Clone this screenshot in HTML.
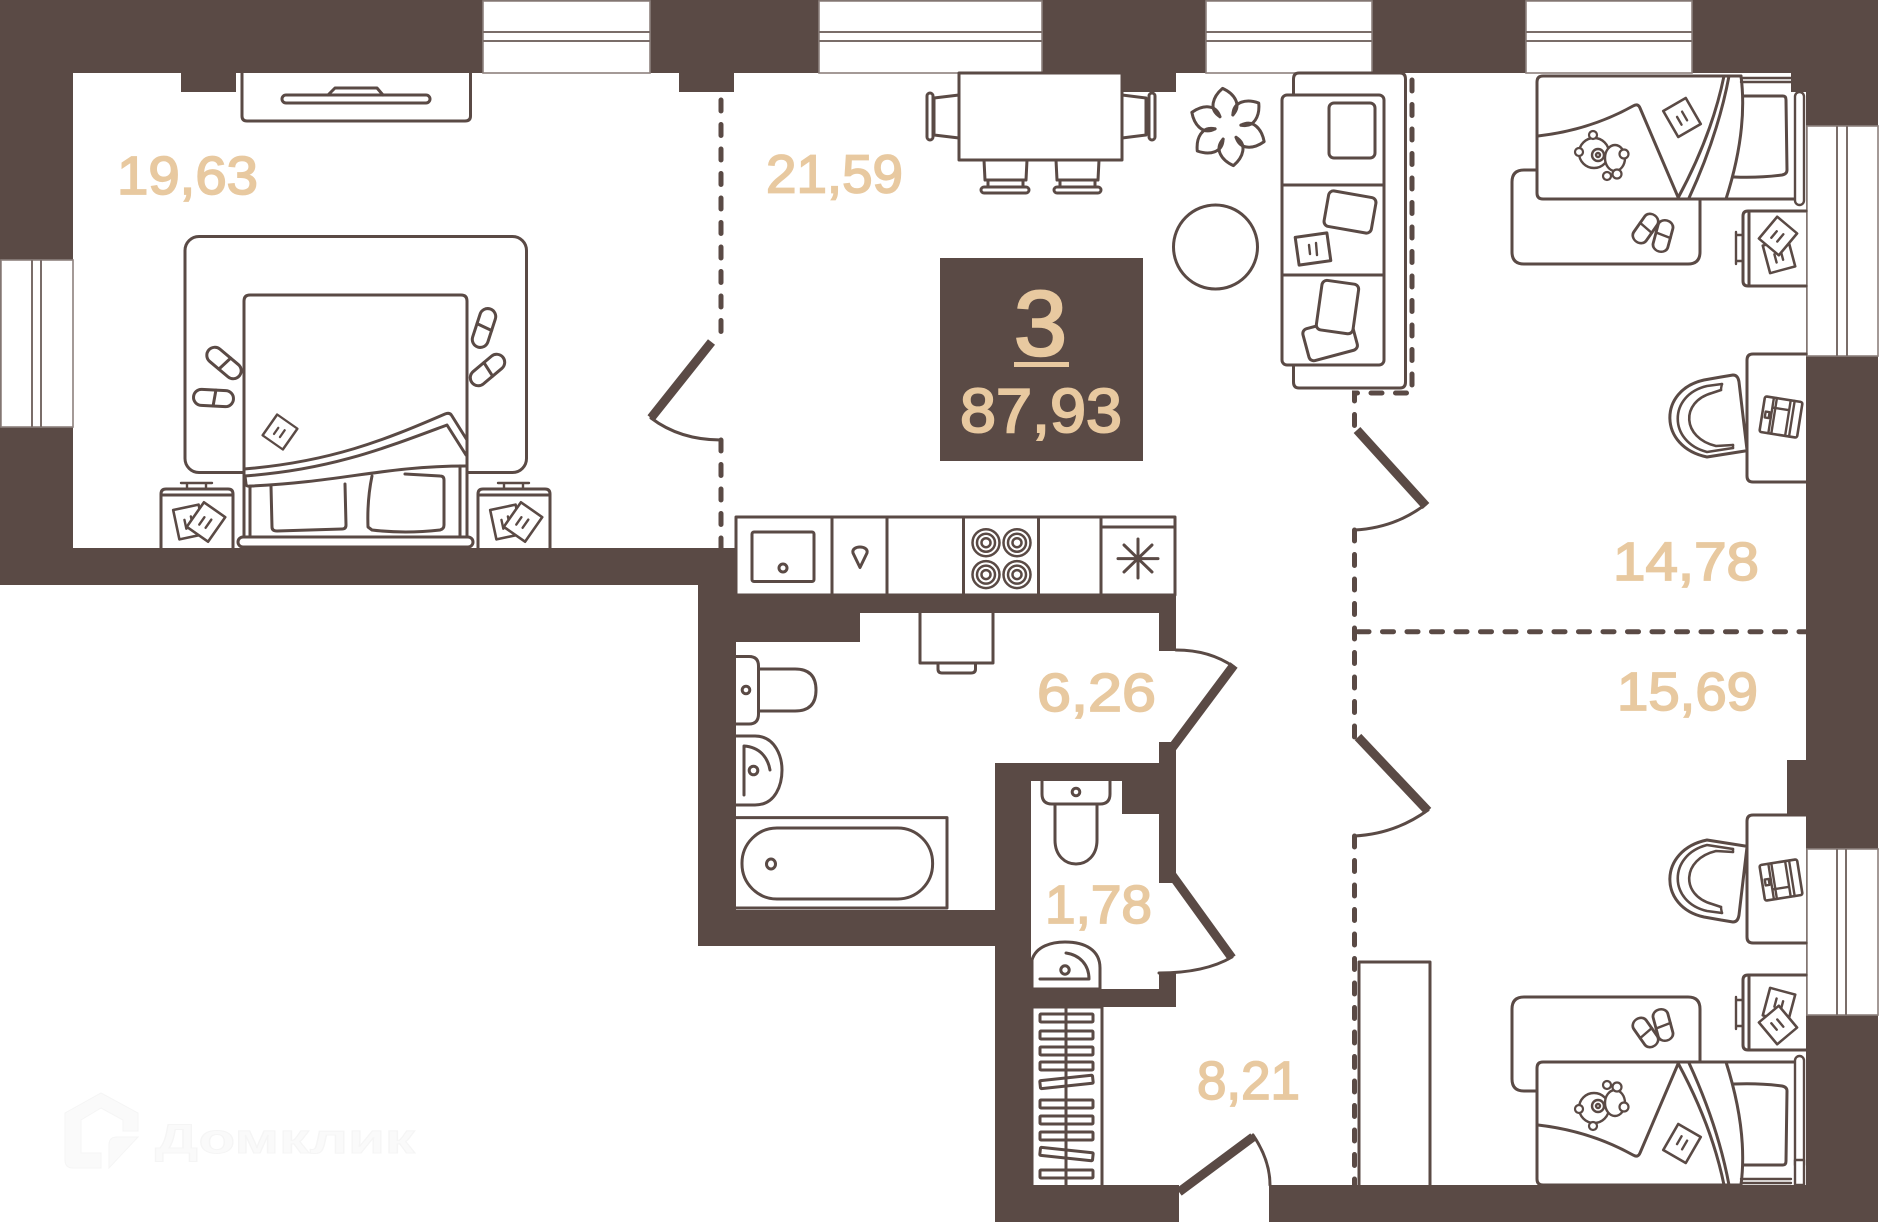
<!DOCTYPE html>
<html><head><meta charset="utf-8">
<style>
html,body{margin:0;padding:0;background:#fff}
svg{display:block}
.w{fill:#5a4a45;stroke:none}
.l{fill:none;stroke:#5a4a45;stroke-width:3;stroke-linejoin:round;stroke-linecap:round}
.f{fill:#fff;stroke:#5a4a45;stroke-width:3;stroke-linejoin:round;stroke-linecap:round}
.t{fill:none;stroke:#5a4a45;stroke-width:2.4;stroke-linejoin:round;stroke-linecap:round}
.d{fill:none;stroke:#5a4a45;stroke-width:9;stroke-linecap:butt}
.da{fill:none;stroke:#5a4a45;stroke-width:5;stroke-dasharray:11 13.5;stroke-linecap:round}
.win{fill:#fff;stroke:#8d817d;stroke-width:1.6}
.win2{fill:none;stroke:#7a6d69;stroke-width:2}
text.a{font-family:"Liberation Sans",sans-serif;fill:#e8c9a0;stroke:#e8c9a0;stroke-width:1.7;font-size:54px}
</style></head><body>
<svg xmlns="http://www.w3.org/2000/svg" width="1880" height="1222" viewBox="0 0 1880 1222">
<defs>
<g id="slip"><rect x="-20" y="-8" width="40" height="16" rx="8" class="t" style="stroke-width:3;fill:#fff"/><path d="M2,-8 L0,8" class="t" style="stroke-width:3"/></g>
<g id="book"><rect x="-13" y="-15" width="26" height="30" class="f" style="stroke-width:2.6"/><path d="M-4,-3 V6 M3,-5 V5" class="t"/></g>
<g id="lap"><rect x="-19" y="-18" width="38" height="36" rx="2" class="f" style="stroke-width:2.6"/><path d="M-10,-18 V18 M-7,-18 V18 M7,-18 V18 M11,-18 V18 M-10,-8 H7" class="t"/><rect x="-16" y="-3" width="4" height="6" class="t"/></g>
<g id="teddy"><circle cx="-6" cy="-2" r="15" class="f" style="stroke-width:2.4"/><circle cx="-21" cy="-3" r="4" class="f" style="stroke-width:2.2"/><circle cx="-7" cy="-20" r="4" class="f" style="stroke-width:2.2"/><circle cx="-2" cy="0" r="6" class="t"/><circle cx="-2" cy="0" r="2" class="t"/><ellipse cx="15" cy="3" rx="10" ry="13" class="f" style="stroke-width:2.4"/><circle cx="24" cy="-1" r="4.500" class="f" style="stroke-width:2.2"/><circle cx="7" cy="21" r="4" class="f" style="stroke-width:2.2"/><circle cx="17" cy="19" r="4.500" class="f" style="stroke-width:2.2"/></g>
<g id="kidbed">
<path d="M1512,182 Q1512,170 1524,170 H1537 M1512,182 V252 Q1512,264 1524,264 H1688 Q1700,264 1700,252 V199" class="l"/>
<path d="M1741,76 H1543 Q1537,76 1537,82 V193 Q1537,199 1543,199 H1797" class="l"/>
<path d="M1741,78 H1791 M1741,82 H1791" class="t"/>
<path d="M1724,76 Q1712,135 1678,198 M1729,76 Q1718,135 1689,198 M1741,76 Q1748,130 1726,199" class="l"/>
<path d="M1538,136 Q1590,130 1633,106 Q1638,103 1640,108 L1678,197" class="l"/>
<use href="#book" x="0" y="0" transform="translate(1682,117.5) rotate(-30)"/>
<use href="#teddy" transform="translate(1600,155)"/>
<path d="M1743,96 H1783 Q1786,96 1786,100 L1787,170 Q1787,174 1782,175 Q1760,178 1734,177" class="l"/>
<rect x="1795" y="92" width="9" height="113" rx="4.5" class="f" style="stroke-width:2.4"/>
<use href="#slip" transform="translate(1645.5,228.5) rotate(-55) scale(.8,.95)"/>
<use href="#slip" transform="translate(1663,236) rotate(-75) scale(.8,.95)"/>
<path d="M1806,211 H1748 Q1743,211 1743,216 V281 Q1743,286 1748,286 H1806 M1749,211 V286" class="l"/>
<path d="M1736,232 V264 M1736,235 H1743 M1736,261 H1743" class="t"/>
<use href="#book" transform="translate(1779,256) rotate(-15) scale(1,.95)"/>
<use href="#book" transform="translate(1778,236) rotate(40) scale(1,.95)"/>
</g>
<g id="desk">
<path d="M1806,354 H1753 Q1747,354 1747,360 V476 Q1747,482 1753,482 H1806" class="l"/>
<path d="M1721,377 L1704,380 C1658,390 1658,447 1707,457 L1745,451 M1721,377 L1733,375 Q1738,375 1739,382 L1747,450" class="l"/>
<path d="M1722,384 L1707,386 C1668,395 1668,442 1707,452 L1733,448" class="t" style="stroke-width:2.6"/>
<path d="M1721,390 L1712,393 C1680,402 1682,438 1716,446 L1733,445" class="t" style="stroke-width:2.6"/>
<path d="M1722,384 Q1721,388 1721,390 M1733,448 V445" class="t"/>
<use href="#lap" transform="translate(1781,417) rotate(9)"/>
</g>
</defs>

<rect width="1880" height="1222" fill="#fff"/>

<!-- watermark -->
<g fill="#fafafa" stroke="#f5f5f5" stroke-width="1">
<path d="M101,1093 L138,1113 V1131 H123 V1120 L101,1108 L81,1120 V1153 H101 V1168 H73 Q65,1168 65,1160 V1113 Z"/>
<path d="M138,1137 L109,1168 V1145 Q109,1137 117,1137 Z"/>
<text x="155" y="1153" font-family="Liberation Sans, sans-serif" font-weight="700" font-size="42" textLength="260" lengthAdjust="spacingAndGlyphs">Домклик</text>
</g>

<!-- walls -->
<rect class="w" x="0" y="0" width="1878" height="73"/>
<rect class="w" x="0" y="0" width="73" height="585"/>
<rect class="w" x="0" y="548" width="736" height="37"/>
<rect class="w" x="698" y="548" width="38" height="398"/>
<rect class="w" x="698" y="595" width="478" height="18"/>
<rect class="w" x="698" y="595" width="162" height="47"/>
<rect class="w" x="1159" y="595" width="17" height="56"/>
<rect class="w" x="1159" y="742" width="17" height="141"/>
<rect class="w" x="995" y="763" width="181" height="18"/>
<rect class="w" x="698" y="910" width="297" height="36"/>
<rect class="w" x="995" y="763" width="36" height="459"/>
<rect class="w" x="1122" y="781" width="37" height="33"/>
<rect class="w" x="1159" y="973" width="17" height="33"/>
<rect class="w" x="1031" y="989" width="145" height="18"/>
<rect class="w" x="995" y="1185" width="184" height="37"/>
<rect class="w" x="1269" y="1185" width="609" height="37"/>
<rect class="w" x="1806" y="0" width="72" height="1222"/>
<rect class="w" x="181" y="73" width="55" height="19"/>
<rect class="w" x="679" y="73" width="55" height="19"/>
<rect class="w" x="1121" y="73" width="55" height="19"/>
<rect class="w" x="1791" y="73" width="15" height="19"/>
<rect class="w" x="1787" y="760" width="19" height="54"/>

<!-- windows -->
<g>
<rect class="win" x="483" y="1" width="167" height="72"/><path class="win2" d="M483,32 H650 M483,41 H650"/>
<rect class="win" x="819" y="1" width="223" height="72"/><path class="win2" d="M819,32 H1042 M819,41 H1042"/>
<rect class="win" x="1206" y="1" width="166" height="72"/><path class="win2" d="M1206,32 H1372 M1206,41 H1372"/>
<rect class="win" x="1526" y="1" width="166" height="72"/><path class="win2" d="M1526,32 H1692 M1526,41 H1692"/>
<rect class="win" x="1" y="260" width="72" height="167"/><path class="win2" d="M32,260 V427 M41,260 V427"/>
<rect class="win" x="1807" y="126" width="71" height="230"/><path class="win2" d="M1837,126 V356 M1847,126 V356"/>
<rect class="win" x="1807" y="849" width="71" height="166"/><path class="win2" d="M1837,849 V1015 M1846,849 V1015"/>
</g>

<!-- dashed partitions -->
<path class="da" d="M721,100 V340"/>
<path class="da" d="M721,440 V548"/>
<path class="da" d="M1412,80 V393 H1354.5 V431"/>
<path class="da" d="M1354.5,530 V737"/>
<path class="da" d="M1354.5,836 V1185"/>
<path class="da" d="M1358,631.7 H1806"/>

<!-- doors -->
<path class="d" d="M711.5,342 L651,418"/><path class="l" d="M651,418 Q680,440 721,440"/>
<path class="d" d="M1357,430 L1426,506"/><path class="l" d="M1426,504 Q1395,528 1354.5,530"/>
<path class="d" d="M1358,737 L1428,811"/><path class="l" d="M1428,810 Q1395,834 1354.5,836"/>
<path class="d" d="M1234,665 L1172,748"/><path class="l" d="M1176,650 Q1210,650 1234,667"/>
<path class="d" d="M1172,875 L1232,958"/><path class="l" d="M1232,957 Q1205,973 1159,973"/>
<path class="d" d="M1179,1192 L1253,1137"/><path class="l" d="M1253,1135 Q1270,1160 1270,1185"/>

<!-- TV console -->
<path class="l" d="M242,73 V116 Q242,121 247,121 H465 Q470.5,121 470.5,116 V73"/>
<rect class="l" x="282" y="95" width="148" height="8" rx="4"/>
<path class="l" d="M328,95 L335,88 H377 L383,95"/>

<!-- main bed -->
<rect class="l" x="185" y="236.500" width="341.500" height="236" rx="14"/>
<path class="f" d="M244,472 V301 Q244,295 250,295 H461 Q467,295 467,301 V547 H244 Z"/>
<path class="l" d="M250,486 V537 M460,466 V537"/>
<path class="l" d="M271,486 L272,527 Q272,531 277,531 L342,529 Q346,529 346,525 L345,484"/>
<path class="l" d="M372,476 Q367,500 368,527 L372,530 Q405,534 440,530 Q444,529 444,525 L444,480 Q444,476 440,476 L405,474"/>
<rect class="f" x="238" y="537" width="235" height="10" rx="5"/>
<path class="l" d="M244,469 C330,462 385,440 445,414 Q450,412 452,416 L467,440"/>
<path class="l" d="M244,476 C330,470 385,448 447,425 L466,455"/>
<path class="l" d="M245,476 L246,484 Q246,487 252,486 C340,482 385,466 466,466"/>
<use href="#book" transform="translate(280,432) rotate(35) scale(.95,.85)"/>
<use href="#slip" transform="translate(224,363) rotate(40)"/>
<use href="#slip" transform="translate(213.500,398) rotate(3)"/>
<use href="#slip" transform="translate(484,328) rotate(-72)"/>
<use href="#slip" transform="translate(487.500,370) rotate(-40)"/>

<!-- nightstands -->
<g id="ns">
<path class="l" d="M161,548 V494 Q161,489 166,489 H228 Q233,489 233,494 V548 M161,495 H233"/>
<path class="t" d="M181,483 H212 M187,483 V489 M206,483 V489"/>
<use href="#book" transform="translate(189,522) rotate(-12)"/>
<use href="#book" transform="translate(206,522) rotate(35)"/>
</g>
<use href="#ns" transform="translate(317,0)"/>

<!-- dining -->
<rect class="f" x="959" y="73" width="163" height="87"/>
<path class="l" d="M959,95 L934,98 V135 L959,138 M1122,95 L1146,98 V135 L1122,138"/>
<rect class="l" x="927" y="93" width="6" height="47" rx="3"/>
<rect class="l" x="1149" y="93" width="6" height="47" rx="3"/>
<path class="l" d="M984,160 L985,180 H1026 L1027,160 M1056,160 L1057,180 H1098 L1099,160"/>
<rect class="l" x="981" y="187" width="48" height="6" rx="3"/>
<rect class="l" x="1054" y="187" width="47" height="6" rx="3"/>
<path class="l" d="M988,180 V187 M1023,180 V187 M1060,180 V187 M1095,180 V187"/>

<!-- flower -->
<g transform="translate(1228,127) rotate(-8)">
<path id="pt" class="l" d="M-6.500,-11.300 C-17,-20 -11,-32 0,-39 C11,-32 17,-20 6.500,-11.300"/>
<use href="#pt" transform="rotate(60)"/><use href="#pt" transform="rotate(120)"/><use href="#pt" transform="rotate(180)"/><use href="#pt" transform="rotate(240)"/><use href="#pt" transform="rotate(300)"/>
</g>
<circle class="l" cx="1215.500" cy="247" r="42"/>

<!-- sofa -->
<path class="l" d="M1293.500,95 V79 Q1293.500,73 1299,73 H1400 Q1405.500,73 1405.500,79 V382 Q1405.500,388 1400,388 H1299 Q1293.500,388 1293.500,382 V365"/>
<rect class="f" x="1282" y="95" width="102" height="270" rx="5"/>
<path class="l" d="M1282,185 H1384 M1282,275 H1384"/>
<rect class="l" x="1329" y="103" width="46" height="55" rx="5"/>
<rect class="l" x="1326" y="194" width="48" height="36" rx="5" transform="rotate(10 1350 212)"/>
<rect class="l" x="1297" y="235" width="32" height="28" transform="rotate(-8 1313 249)"/>
<path class="t" d="M1309,245 L1310,254 M1316,243 L1317,255"/>
<rect class="f" x="1305" y="323" width="50" height="33" rx="5" transform="rotate(-15 1330 339)"/>
<rect class="f" x="1319" y="282" width="37" height="50" rx="5" transform="rotate(8 1337 307)"/>

<!-- kitchen -->
<rect class="l" x="736" y="517" width="439" height="78" />
<path class="l" d="M832,517 V595 M887,517 V595 M963.500,517 V595 M1038.500,517 V595 M1101,517 V595 M1101,527 H1175"/>
<rect class="l" x="752" y="532" width="62" height="49.500" rx="2"/>
<circle class="l" cx="783" cy="568" r="4"/>
<path class="l" d="M860,567.500 L853,553 C851,545 869,545 867,553 Z"/>
<g class="t" style="stroke-width:2.5">
<circle cx="986" cy="542.700" r="13.500"/><circle cx="986" cy="542.700" r="9"/><circle cx="986" cy="542.700" r="4.500"/>
<circle cx="1017" cy="542.700" r="13.500"/><circle cx="1017" cy="542.700" r="9"/><circle cx="1017" cy="542.700" r="4.500"/>
<circle cx="986" cy="574.600" r="13.500"/><circle cx="986" cy="574.600" r="9"/><circle cx="986" cy="574.600" r="4.500"/>
<circle cx="1017" cy="574.600" r="13.500"/><circle cx="1017" cy="574.600" r="9"/><circle cx="1017" cy="574.600" r="4.500"/>
</g>
<path class="l" d="M1118,558.600 H1158 M1138,539 V578 M1124,545 L1152,572 M1152,545 L1124,572"/>

<!-- bathroom -->
<path class="l" d="M736,656.500 H749 Q758.500,656.500 758.500,666 V714 Q758.500,724 749,724 H736"/>
<path class="l" d="M758.500,669 H795 Q816,669 816,690 Q816,711 795,711 H758.500"/>
<circle class="l" cx="746" cy="690" r="3.800"/>
<path class="l" d="M736,736 H755 C776,736 782,758 782,770 C782,784 776,805 755,805 H736"/>
<path class="l" d="M744,795 V746 C760,747 768,758 770,770"/>
<circle class="l" cx="753.500" cy="770.500" r="4.300"/>
<path class="l" d="M736,817.600 H947 V908 H736"/>
<rect class="l" x="742" y="828" width="190.600" height="71" rx="35"/>
<ellipse class="l" cx="771" cy="864" rx="4.500" ry="5"/>
<path class="l" d="M920,613 V663 H993 V613"/>
<path class="l" d="M938,663 V669 Q938,673 942,673 H971 Q975.500,673 975.500,669 V663"/>

<!-- WC -->
<path class="l" d="M1042,781 V794 Q1042,804 1052,804 H1100 Q1110,804 1110,794 V781"/>
<path class="l" d="M1055,804 V840 C1055,872 1097,872 1097,840 V804"/>
<circle class="l" cx="1076" cy="792" r="3.800"/>
<path class="l" d="M1032,960 C1036,946 1052,942 1065,942 C1085,942 1100,950 1100,968 V989"/>
<path class="l" d="M1032,960 V989 H1100"/>
<circle class="l" cx="1065" cy="970" r="4.200"/>
<path class="l" d="M1040,979 H1089 C1089,965 1080,955 1066,953"/>

<!-- closet -->
<path class="l" d="M1032,1007 H1102 V1185 M1032,1185 V1007"/>
<g class="f" style="stroke-width:3">
<rect x="1040" y="1014" width="53" height="8" rx="1"/>
<rect x="1040" y="1031" width="53" height="8" rx="1"/>
<rect x="1040" y="1047" width="53" height="8" rx="1"/>
<rect x="1040" y="1062" width="53" height="8" rx="1"/>
<rect x="1040" y="1078" width="53" height="8" rx="1" transform="rotate(-6 1066 1082)"/>
<rect x="1040" y="1100" width="53" height="8" rx="1"/>
<rect x="1040" y="1116" width="53" height="8" rx="1"/>
<rect x="1040" y="1132" width="53" height="8" rx="1"/>
<rect x="1040" y="1150" width="53" height="8" rx="1" transform="rotate(6 1066 1154)"/>
<rect x="1040" y="1170" width="53" height="8" rx="1"/>
</g>
<path class="l" d="M1066,1007 V1185"/>

<!-- wardrobe -->
<path class="l" d="M1359,1185 V962 H1430 V1185"/>

<!-- kids rooms -->
<use href="#kidbed"/>
<use href="#desk"/>
<use href="#kidbed" transform="translate(0,1261) scale(1,-1)"/>
<use href="#desk" transform="translate(0,1297) scale(1,-1)"/>
<rect x="1795" y="1160" width="9" height="25" class="l" style="stroke-width:2.4;fill:#fff"/>

<!-- summary box -->
<rect class="w" x="940" y="258" width="203" height="203"/>
<text class="a" x="1014" y="355" style="font-size:92px;stroke-width:2.6" textLength="53" lengthAdjust="spacingAndGlyphs">3</text>
<rect x="1014" y="362" width="55" height="5" fill="#e8c9a0"/>
<text class="a" x="960" y="432" style="font-size:62px;stroke-width:2" textLength="162" lengthAdjust="spacingAndGlyphs">87,93</text>

<!-- area labels -->
<text class="a" x="117" y="194" textLength="141" lengthAdjust="spacingAndGlyphs">19,63</text>
<text class="a" x="766" y="192.500" textLength="137" lengthAdjust="spacingAndGlyphs">21,59</text>
<text class="a" x="1613" y="580" textLength="146" lengthAdjust="spacingAndGlyphs">14,78</text>
<text class="a" x="1617" y="710" textLength="141" lengthAdjust="spacingAndGlyphs">15,69</text>
<text class="a" x="1037" y="711" textLength="119" lengthAdjust="spacingAndGlyphs">6,26</text>
<text class="a" x="1045" y="923" textLength="107" lengthAdjust="spacingAndGlyphs">1,78</text>
<text class="a" x="1197" y="1099" textLength="103" lengthAdjust="spacingAndGlyphs">8,21</text>
</svg>
</body></html>
